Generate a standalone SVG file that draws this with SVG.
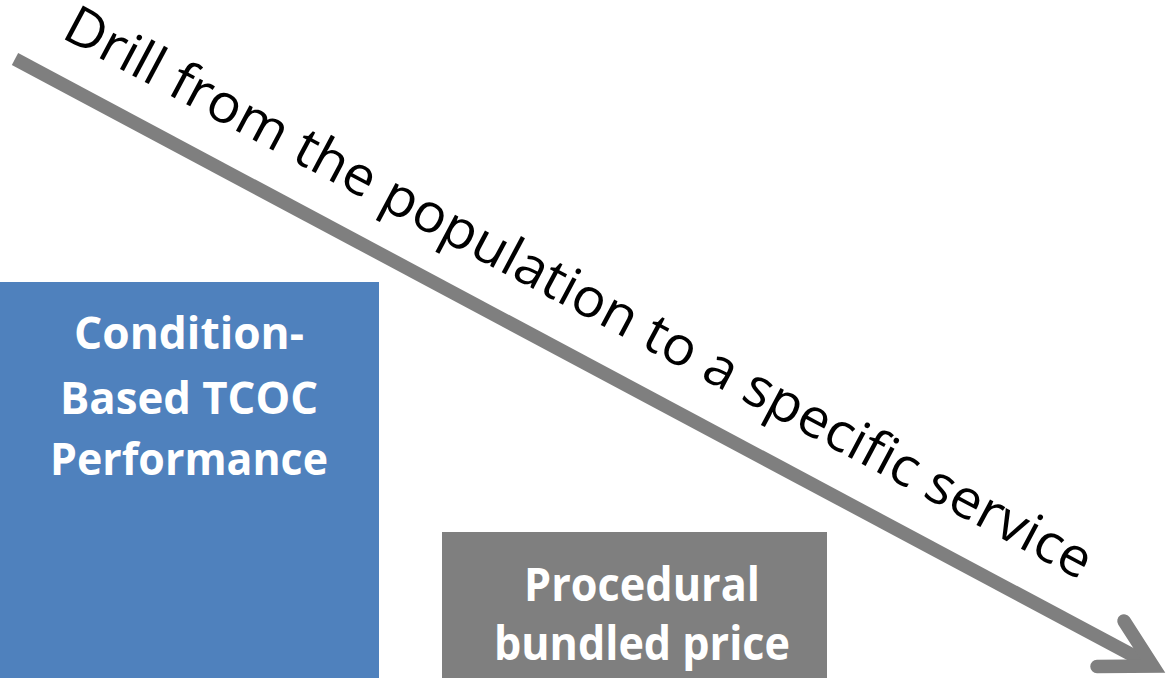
<svg xmlns="http://www.w3.org/2000/svg" width="1173" height="678" viewBox="0 0 1173 678">
<style>
.box-text{font-family:"Open Sans","Noto Sans",sans-serif;font-weight:bold;font-size:44px;fill:#ffffff;text-anchor:middle}
.drill{font-family:"Open Sans","Noto Sans",sans-serif;font-size:54px;fill:#000000}
.arrow{stroke:#7f7f7f;stroke-width:13.5;fill:none}
</style>
<rect width="1173" height="678" fill="#ffffff"/>
<g id="condition-box">
<rect x="0" y="282" width="379" height="396" fill="#4f81bd"/>
<text class="box-text" x="189" y="349" textLength="230" lengthAdjust="spacingAndGlyphs">Condition-</text>
<text class="box-text" x="189" y="414" textLength="258" lengthAdjust="spacingAndGlyphs">Based TCOC</text>
<text class="box-text" x="189" y="475" textLength="278" lengthAdjust="spacingAndGlyphs">Performance</text>
</g>
<g id="procedural-box">
<rect x="442" y="532" width="385" height="146" fill="#7f7f7f"/>
<text class="box-text" x="642" y="601" style="font-size:46px" textLength="236" lengthAdjust="spacingAndGlyphs">Procedural</text>
<text class="box-text" x="642" y="660" style="font-size:46px" textLength="296" lengthAdjust="spacingAndGlyphs">bundled price</text>
</g>
<g id="connectors">
<line class="arrow" x1="15" y1="59" x2="1150" y2="664.5" stroke-linecap="butt"/>
<polyline class="arrow" points="1124,621 1153,666 1097,666.5" stroke-linecap="round" stroke-linejoin="miter"/>
</g>
<g id="label">
<text class="drill" transform="translate(60,37) rotate(28.04)" x="0" y="0" textLength="1156" lengthAdjust="spacingAndGlyphs">Drill from the population to a specific service</text>
</g>
</svg>
